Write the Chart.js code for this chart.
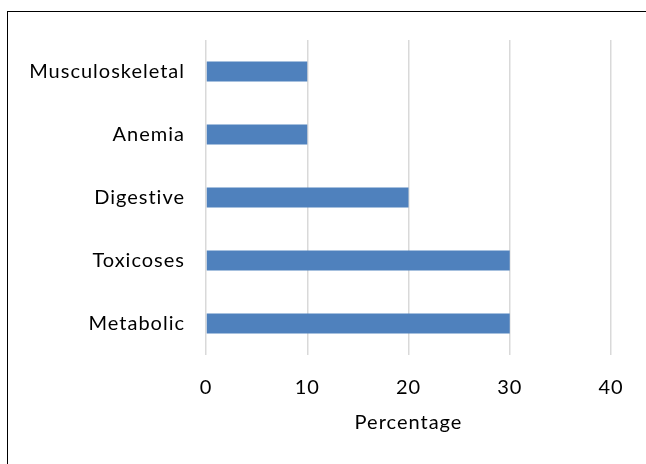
<!DOCTYPE html>
<html>
<head>
<meta charset="utf-8">
<script src="https://cdn.jsdelivr.net/npm/chart.js@4"></script>
<style>
  html, body { margin: 0; padding: 0; background: #fff; }
  #wrap { position: relative; width: 646px; height: 464px; }
  #frame { position: absolute; left: 7px; top: 11px; right: -2px; bottom: -2px; border-left: 1px solid #000; border-top: 1px solid #000; }
  canvas { position: absolute; left: 0; top: 0; }
</style>
</head>
<body>
<div id="wrap">
  <div id="frame"></div>
  <canvas id="chart" width="646" height="464"></canvas>
</div>
<script>
// Disease groups and their share of cases (%)
const categories = ['Musculoskeletal', 'Anemia', 'Digestive', 'Toxicoses', 'Metabolic'];
const percentages = [10, 10, 20, 30, 30];
const xTicks = [0, 10, 20, 30, 40];
const xTitle = 'Percentage';

const FONT = 'Lato, "Open Sans", sans-serif';
const FONT_SIZE = 20;

// Slightly looser letter spacing for all chart text
const spacedText = {
  id: 'spacedText',
  beforeDraw(chart) { chart.ctx.letterSpacing = '1px'; }
};

new Chart(document.getElementById('chart'), {
  type: 'bar',
  data: {
    labels: categories,
    datasets: [{
      data: percentages,
      backgroundColor: '#4f81bd',
      borderWidth: 0,
      barPercentage: 0.64,
      categoryPercentage: 0.5
    }]
  },
  plugins: [spacedText],
  options: {
    indexAxis: 'y',
    responsive: false,
    animation: false,
    layout: { padding: { left: 0, top: 40, right: 35, bottom: 0 } },
    plugins: { legend: { display: false }, tooltip: { enabled: false } },
    scales: {
      x: {
        min: xTicks[0],
        max: xTicks[xTicks.length - 1],
        afterBuildTicks: (scale) => { scale.ticks = xTicks.map(v => ({ value: v })); },
        grid: { color: '#d9d9d9', lineWidth: 1.5, drawTicks: false },
        border: { display: false },
        ticks: { color: '#000', padding: 21, font: { family: FONT, size: FONT_SIZE } },
        title: {
          display: true,
          text: xTitle,
          color: '#000',
          font: { family: FONT, size: FONT_SIZE },
          padding: { top: 17, bottom: 29 }
        },
        afterFit: (scale) => { scale.height = 109; }
      },
      y: {
        grid: { display: false, drawTicks: false },
        border: { display: false },
        ticks: { color: '#000', padding: 21, font: { family: FONT, size: FONT_SIZE } },
        afterFit: (scale) => { scale.width = 206; }
      }
    }
  }
});
</script>
</body>
</html>
